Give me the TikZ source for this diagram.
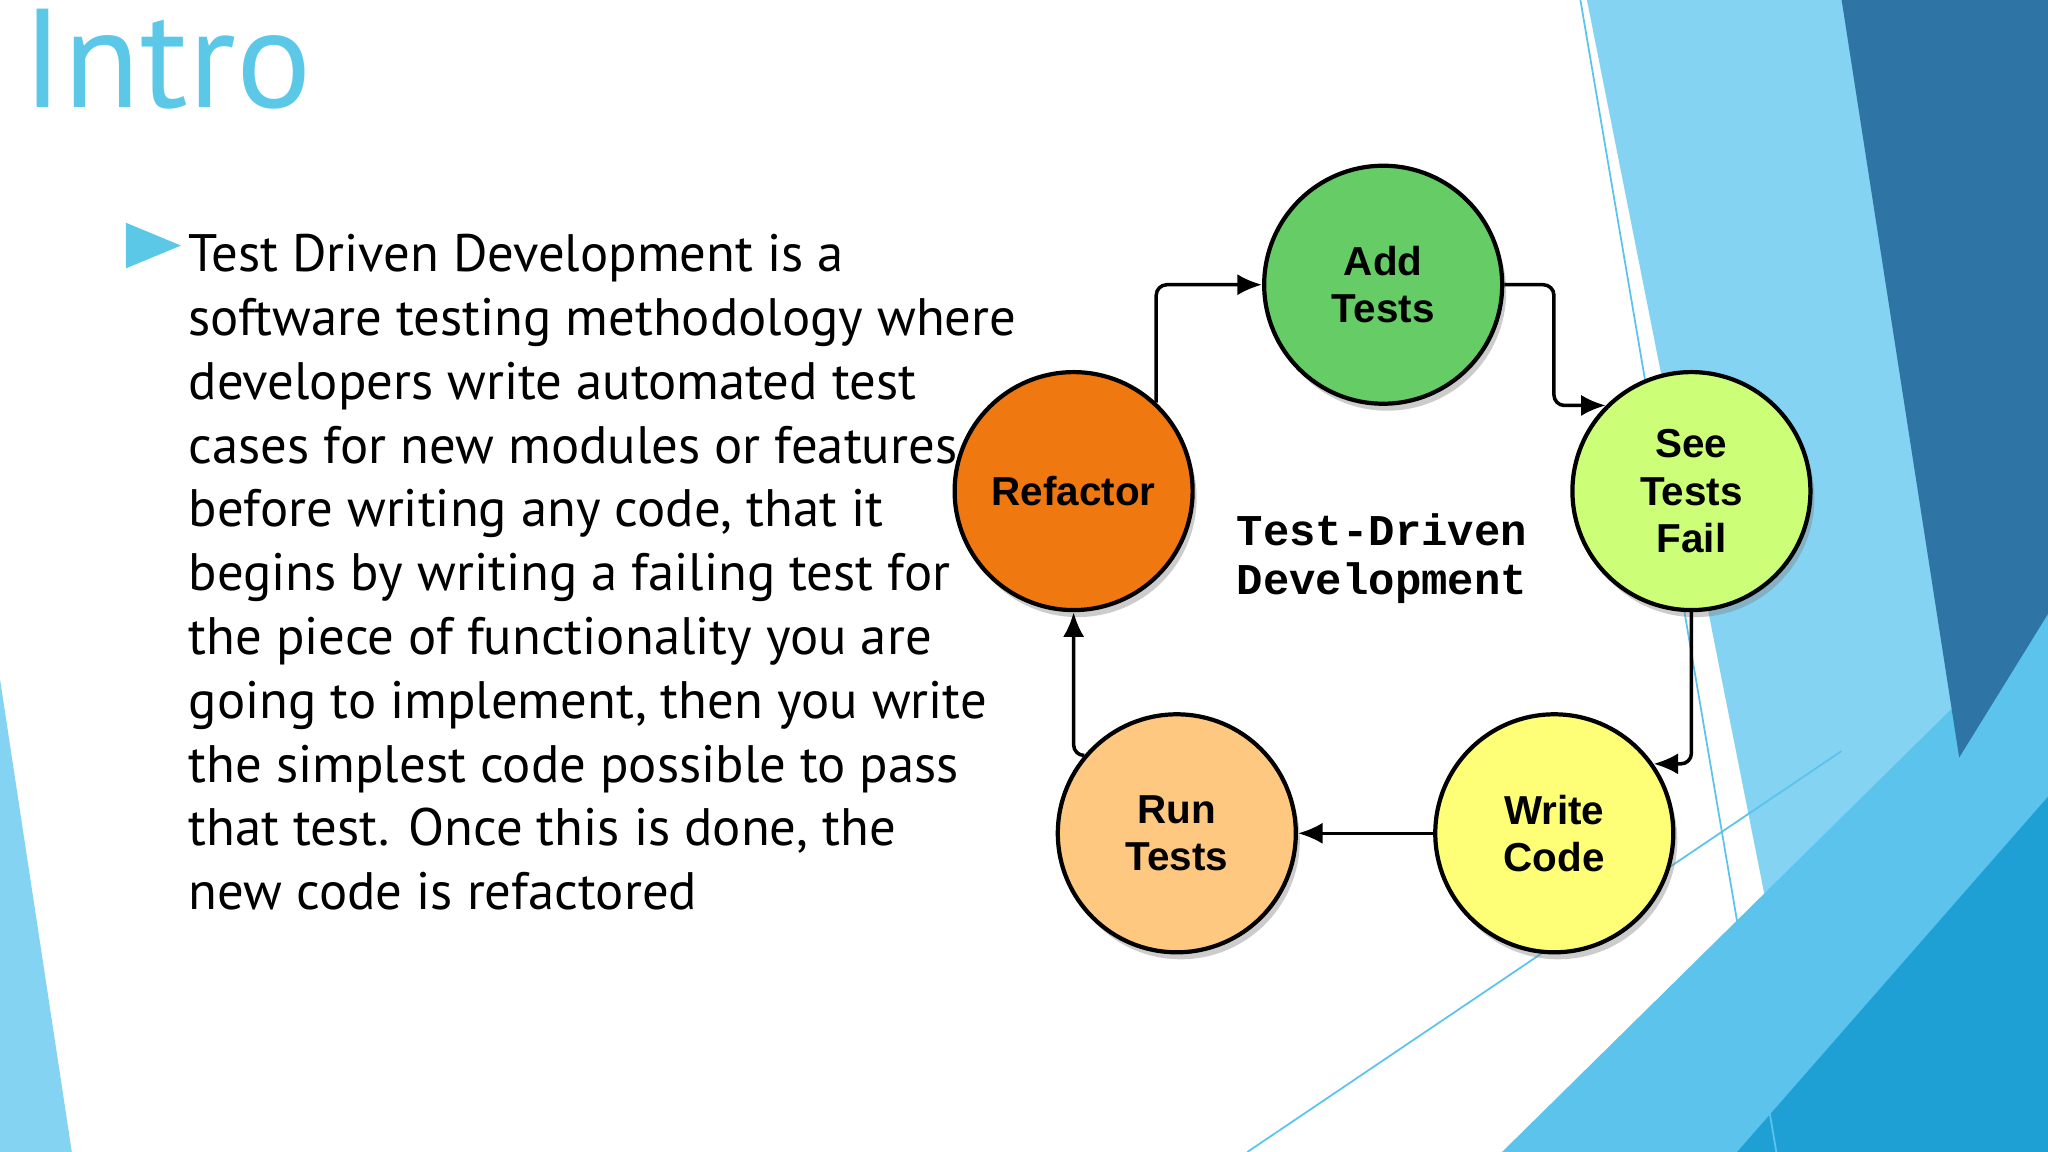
\documentclass[tikz,border=0pt]{standalone}
\usepackage{fontspec}
\setmainfont{PT Sans}
\newfontfamily\arialf{Liberation Sans}
\newfontfamily\monof{Liberation Mono}
\usetikzlibrary{arrows.meta,shadows,shapes.geometric}
\definecolor{titleblue}{HTML}{5BC8E8}
\definecolor{bglight}{HTML}{84D3F2}
\definecolor{bgmid}{HTML}{5BC3EC}
\definecolor{bgdark}{HTML}{2E75A6}
\definecolor{bgbright}{HTML}{1EA0D5}
\definecolor{addgreen}{HTML}{66CC66}
\definecolor{seelime}{HTML}{CCFF77}
\definecolor{writeyellow}{HTML}{FFFF77}
\definecolor{runpeach}{HTML}{FFC880}
\definecolor{reforange}{HTML}{F07810}
\tikzset{
	phase/.style={circle, minimum size=2.38cm, draw=black, line width=1.2pt, align=center,
		font=\arialf\bfseries\fontsize{11.5}{13.5}\selectfont,
		drop shadow={shadow xshift=0.04cm, shadow yshift=-0.07cm, opacity=0.4}},
	arrow/.style={line width=1pt, -{Latex[length=7pt,width=6pt]}, rounded corners=3pt},
}
\begin{document}
\begin{tikzpicture}[x=0.01306cm, y=-0.01306cm]
\useasboundingbox (0,0) rectangle (1568,882);
% background shapes
\fill[bglight] (1215,0) -- (1568,0) -- (1568,882) -- (1390,882) -- cycle;
\fill[bgmid] (1150,882) -- (1568,470) -- (1568,882) -- cycle;
\fill[bgdark] (1410,0) -- (1568,0) -- (1568,470) -- (1500,580) -- cycle;
\fill[bgbright] (1330,882) -- (1568,610) -- (1568,882) -- cycle;
\fill[bglight] (0,520) -- (55,882) -- (0,882) -- cycle;
\draw[bgmid, line width=0.5pt] (1210,0) -- (1360,882);
\draw[bgmid, line width=0.5pt] (955,882) -- (1410,575);
% title and text
\node (title) [anchor=west, text=titleblue, font=\fontsize{40}{44}\selectfont] at (8,45) {Intro};
\node (bullet) [fill=titleblue, isosceles triangle, inner sep=0pt, minimum width=13pt, minimum height=11pt] at (108,188) {};
\node (body) [anchor=north west, align=left, font=\fontsize{15}{18.15}\selectfont] at (135,170) {Test Driven Development is a\\
software testing methodology where\\
developers write automated test\\
cases for new modules or features\\
before writing any code, that it\\
begins by writing a failing test for\\
the piece of functionality you are\\
going to implement, then you write\\
the simplest code possible to pass\\
that test. Once this is done, the\\
new code is refactored};
% cycle
\node (add) [phase, fill=addgreen] at (1059,218) {Add\\Tests};
\node (see) [phase, fill=seelime] at (1295,376) {See\\Tests\\Fail};
\node (write) [phase, fill=writeyellow] at (1190,638) {Write\\Code};
\node (run) [phase, fill=runpeach] at (901,638) {Run\\Tests};
\node (ref) [phase, fill=reforange] at (822,376) {Refactor};
\node (tdd) [font=\monof\bfseries\fontsize{12.5}{14}\selectfont, align=left] at (1058,428) {Test-Driven\\Development};
\draw [arrow] (ref.47) |- (add.west);
\draw [arrow] (add.east) -- ++(38,0) |- (see.135);
\draw [arrow] (see.south) |- (write.35);
\draw [arrow] (write.west) -- (run.east);
\draw [arrow] (run.140) -| (ref.south);
\end{tikzpicture}
\end{document}
